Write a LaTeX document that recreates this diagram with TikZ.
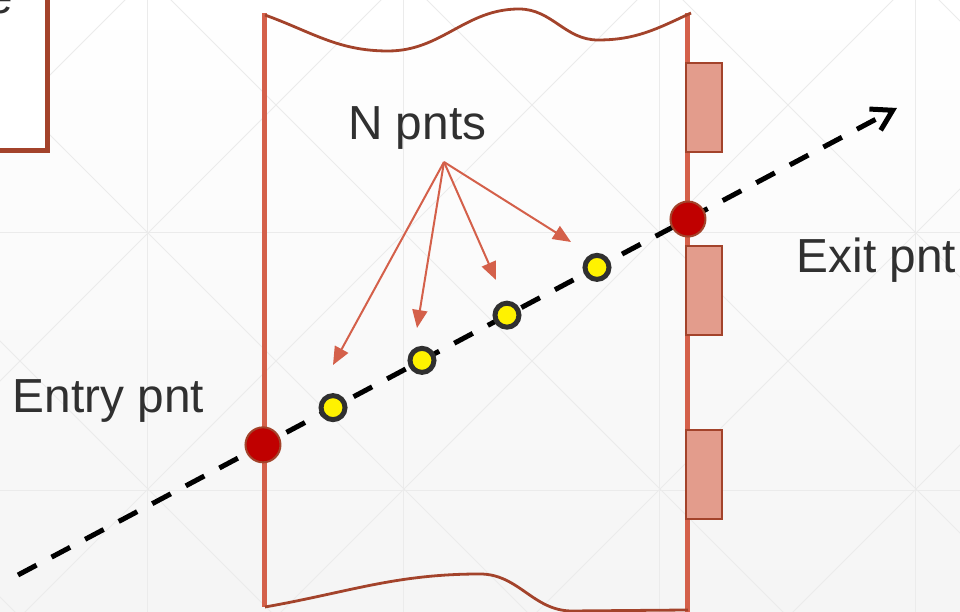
\documentclass[tikz,border=0pt]{standalone}
\usepackage{fontspec}
\setmainfont{Liberation Sans}
\usetikzlibrary{positioning,arrows.meta,calc}
\definecolor{wallred}{HTML}{D4604A}
\definecolor{edgebrown}{HTML}{A3432B}
\definecolor{padfill}{HTML}{E39C8C}
\definecolor{dotred}{HTML}{C00000}
\definecolor{txtgray}{HTML}{303030}
\definecolor{gridgray}{HTML}{EBEBEB}
\tikzset{cross node/.style={circle,draw=edgebrown,fill=dotred,line width=0.02cm,
minimum size=0.35cm,inner sep=0pt},
sample node/.style={circle,draw=txtgray,fill=yellow,line width=0.05cm,
minimum size=0.24cm,inner sep=0pt},
lbl/.style={inner sep=0pt,anchor=base west,text=txtgray,
font=\fontsize{13.6}{16.3}\selectfont},
pad/.style={draw=edgebrown,fill=padfill,line width=0.018cm},
pointer/.style={wallred,line width=0.02cm,-{Triangle[length=0.18cm,width=0.15cm]}},
ray/.style={black,line width=0.05cm,dash pattern=on 0.21cm off 0.17cm,
-{Straight Barb[length=0.2cm,width=0.24cm]}}}

\begin{document}
\begin{tikzpicture}
    \shade[top color=white,bottom color=black!4] (0,0) rectangle (9.6,6.12);
    \useasboundingbox (0,0) rectangle (9.6,6.12);

    % background grid
    \begin{scope}[gridgray,line width=0.01cm]
        \clip (0,0) rectangle (9.6,6.12);
        \foreach \x in {1.48,4.04,6.60,9.16}
            \draw (\x,0) -- (\x,6.12);
        \foreach \y in {1.21,3.79}
            \draw (0,\y) -- (9.6,\y);
        \foreach \k in {-3,...,4} {
            \draw ({5.27+2.56*\k-7},7) -- ({5.27+2.56*\k+1},-1);
            \draw ({-2.31+2.56*\k-1},-1) -- ({-2.31+2.56*\k+7},7);
        }
    \end{scope}

    % box at the top left
    \draw[edgebrown,line width=0.05cm,fill=white] (-1,4.61) rectangle (0.48,7);
    \node[lbl,anchor=base east] (boxtxt) at (0.135,5.98) {e};

    % walls
    \draw[wallred,line width=0.05cm] (2.65,0.05) -- (2.65,5.99);
    \draw[wallred,line width=0.05cm] (6.88,0.0) -- (6.88,5.99);
    \draw[edgebrown,line width=0.028cm] (2.65,5.97)
        to[out=-20,in=180] (3.88,5.61) to[out=0,in=180] (5.19,6.03)
        to[out=0,in=180] (5.98,5.72) to[out=0,in=-155] (6.91,5.99);
    \draw[edgebrown,line width=0.028cm] (2.65,0.05)
        to[out=10,in=180] (4.80,0.38) to[out=0,in=180] (5.72,0.01)
        -- (6.88,0.02);
    \foreach \ya/\yb in {5.49/4.60,3.66/2.77,1.82/0.93}
        \draw[pad] (6.86,\ya) rectangle (7.22,\yb);

    % ray
    \coordinate (a) at (0.18,0.37);
    \coordinate (b) at (8.97,5.04);
    \draw[ray] (a) -- (b);

    \node[cross node] (entry) at ($(a)!0.2787!(b)$) {};
    \node[cross node] (exit) at ($(a)!0.7622!(b)$) {};
    \node[sample node] (p1) at ($(a)!0.3584!(b)$) {};
    \node[sample node] (p2) at ($(a)!0.4596!(b)$) {};
    \node[sample node] (p3) at ($(a)!0.5563!(b)$) {};
    \node[sample node] (p4) at ($(a)!0.6587!(b)$) {};

    \node[lbl] (entrytxt) at (0.12,1.99) {Entry pnt};
    \node[lbl] (exittxt) at (7.96,3.39) {Exit pnt};
    \node[lbl] (npnts) at (3.475,4.72) {N pnts};

    \coordinate (src) at (4.44,4.50);
    \coordinate (t1) at (3.33,2.47);
    \coordinate (t2) at (4.17,2.84);
    \coordinate (t3) at (4.96,3.32);
    \coordinate (t4) at (5.71,3.70);
    \foreach \t in {t1,t2,t3,t4}
        \draw[pointer] (src) -- (\t);
\end{tikzpicture}
\end{document}
